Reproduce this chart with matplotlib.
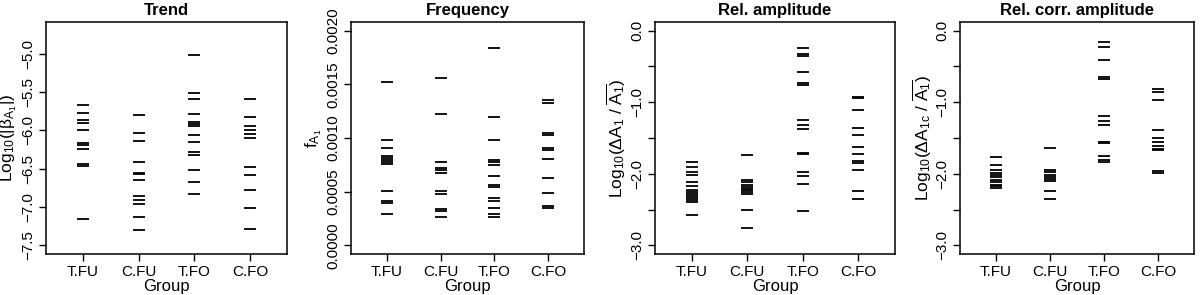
import matplotlib
matplotlib.use('Agg')
import matplotlib.pyplot as plt

plt.rcParams['font.family'] = ['Liberation Sans', 'DejaVu Sans']
plt.rcParams['mathtext.fontset'] = 'custom'
plt.rcParams['mathtext.rm'] = 'Liberation Sans'
plt.rcParams['mathtext.it'] = 'Liberation Sans'
plt.rcParams['mathtext.default'] = 'regular'

groups = ['T.FU', 'C.FU', 'T.FO', 'C.FO']

# Trend, log10(|beta|)
trend_tfu = [-5.665, -5.768, -5.867, -5.898, -5.992, -6.165, -6.186, -6.242, -6.441, -6.467, -7.153]
trend_cfu = [-5.794, -6.035, -6.138, -6.415, -6.552, -6.574, -6.648, -6.855, -6.907, -6.959, -7.135, -7.299]
trend_tfo = [-5.013, -5.51, -5.595, -5.789, -5.885, -5.915, -5.945, -6.057, -6.147, -6.286, -6.316,
             -6.523, -6.669, -6.833]
trend_cfo = [-5.591, -5.82, -5.95, -6.001, -6.053, -6.105, -6.475, -6.587, -6.772, -7.01, -7.29]

# Frequency
freq_tfu = [0.001517, 0.000978, 0.000904, 0.00083, 0.000811, 0.000792, 0.000774, 0.000755,
            0.000511, 0.000418, 0.000399, 0.000291]
freq_cfu = [0.001563, 0.001226, 0.00078, 0.000725, 0.0007, 0.000675, 0.000511, 0.000483,
            0.000337, 0.000319, 0.000269]
freq_tfo = [0.001836, 0.001195, 0.000978, 0.000799, 0.000774, 0.00075, 0.000644, 0.000567,
            0.000545, 0.000443, 0.000418, 0.000344, 0.000288, 0.000269]
freq_cfo = [0.00135, 0.001325, 0.00105, 0.001028, 0.000907, 0.000886, 0.000808, 0.000625,
            0.00049, 0.000365, 0.000344]

# Rel. amplitude
amp_tfu = [-1.84, -1.91, -1.97, -2.02, -2.11, -2.17, -2.22, -2.25, -2.28, -2.31, -2.34, -2.37, -2.40, -2.58]
amp_cfu = [-1.74, -2.09, -2.12, -2.15, -2.18, -2.21, -2.23, -2.26, -2.28, -2.50, -2.76]
amp_tfo = [-0.246, -0.329, -0.348, -0.585, -0.734, -0.753, -1.254, -1.314, -1.37, -1.709, -1.728,
           -1.979, -2.034, -2.141, -2.522]
amp_cfo = [-0.928, -0.947, -1.109, -1.36, -1.458, -1.625, -1.718, -1.825, -1.843, -1.945, -2.243, -2.349]

# Rel. corr. amplitude
corr_tfu = [-1.764, -1.871, -1.941, -1.987, -2.02, -2.048, -2.08, -2.118, -2.15, -2.174, -2.201]
corr_cfu = [-1.639, -1.941, -1.973, -2.011, -2.043, -2.071, -2.099, -2.234, -2.345]
corr_tfo = [-0.162, -0.236, -0.408, -0.654, -0.677, -1.198, -1.258, -1.323, -1.555, -1.574,
            -1.756, -1.801, -1.829]
corr_cfo = [-0.817, -0.864, -0.966, -1.388, -1.505, -1.561, -1.607, -1.653, -1.672, -1.965, -1.983]

M = '\u2212'
panels = [
    ('Trend', r'Log$_{10}$(|$\beta_{A_1}$|)', [trend_tfu, trend_cfu, trend_tfo, trend_cfo],
     (-7.612, -4.588), [-7.5, -7.0, -6.5, -6.0, -5.5, -5.0],
     [M + '7.5', M + '7.0', M + '6.5', M + '6.0', M + '5.5', M + '5.0']),
    ('Frequency', r'f$_{A_1}$', [freq_tfu, freq_cfu, freq_tfo, freq_cfo],
     (-0.00008, 0.00208), [0, 0.0005, 0.001, 0.0015, 0.002], ['0.0000', '0.0005', '0.0010', '0.0015', '0.0020']),
    ('Rel. amplitude', r'Log$_{10}$($\Delta$A$_1$ / $\overline{A_1}$)', [amp_tfu, amp_cfu, amp_tfo, amp_cfo],
     (-3.12, 0.12), [-3.0, -2.0, -1.0, 0.0], [M + '3.0', M + '2.0', M + '1.0', '0.0']),
    ('Rel. corr. amplitude', r'Log$_{10}$($\Delta$A$_{1c}$ / $\overline{A_1}$)', [corr_tfu, corr_cfu, corr_tfo, corr_cfo],
     (-3.12, 0.12), [-3.0, -2.0, -1.0, 0.0], [M + '3.0', M + '2.0', M + '1.0', '0.0']),
]

W, H = 1200, 295
rects = [(46, 241), (351, 233), (655, 240), (960, 234)]

fig = plt.figure(figsize=(12, 2.95), dpi=100)
for (title, ylab, data, ylim, yt, ytl), (left, width) in zip(panels, rects):
    ax = fig.add_axes([left / W, 41 / H, width / W, 232 / H])
    for i, vals in enumerate(data):
        ax.plot([i + 1] * len(vals), vals, linestyle='none', marker='_', color='black',
                markersize=8, markeredgewidth=1.3)
    ax.set_xlim(0.34, 4.66)
    ax.set_ylim(*ylim)
    ax.set_xticks([1, 2, 3, 4])
    ax.set_xticklabels(groups, fontsize=11)
    ax.set_yticks(yt)
    if title.startswith('Rel'):
        ax.set_yticks([-2.5, -1.5, -0.5], minor=True)
        ax.tick_params(axis='y', which='minor', length=5, width=1, direction='out')
    ax.set_yticklabels(ytl, rotation=90, va='center', fontsize=11)
    ax.tick_params(axis='both', which='major', length=5, width=1, direction='out', pad=3)
    ax.set_xlabel('Group', fontsize=12, labelpad=0)
    ax.set_ylabel(ylab, fontsize=12.5, labelpad=1)
    ax.set_title(title, fontsize=12, fontweight='bold', pad=5)
    for s in ax.spines.values():
        s.set_linewidth(1.1)

fig.savefig('out.png', dpi=100)
